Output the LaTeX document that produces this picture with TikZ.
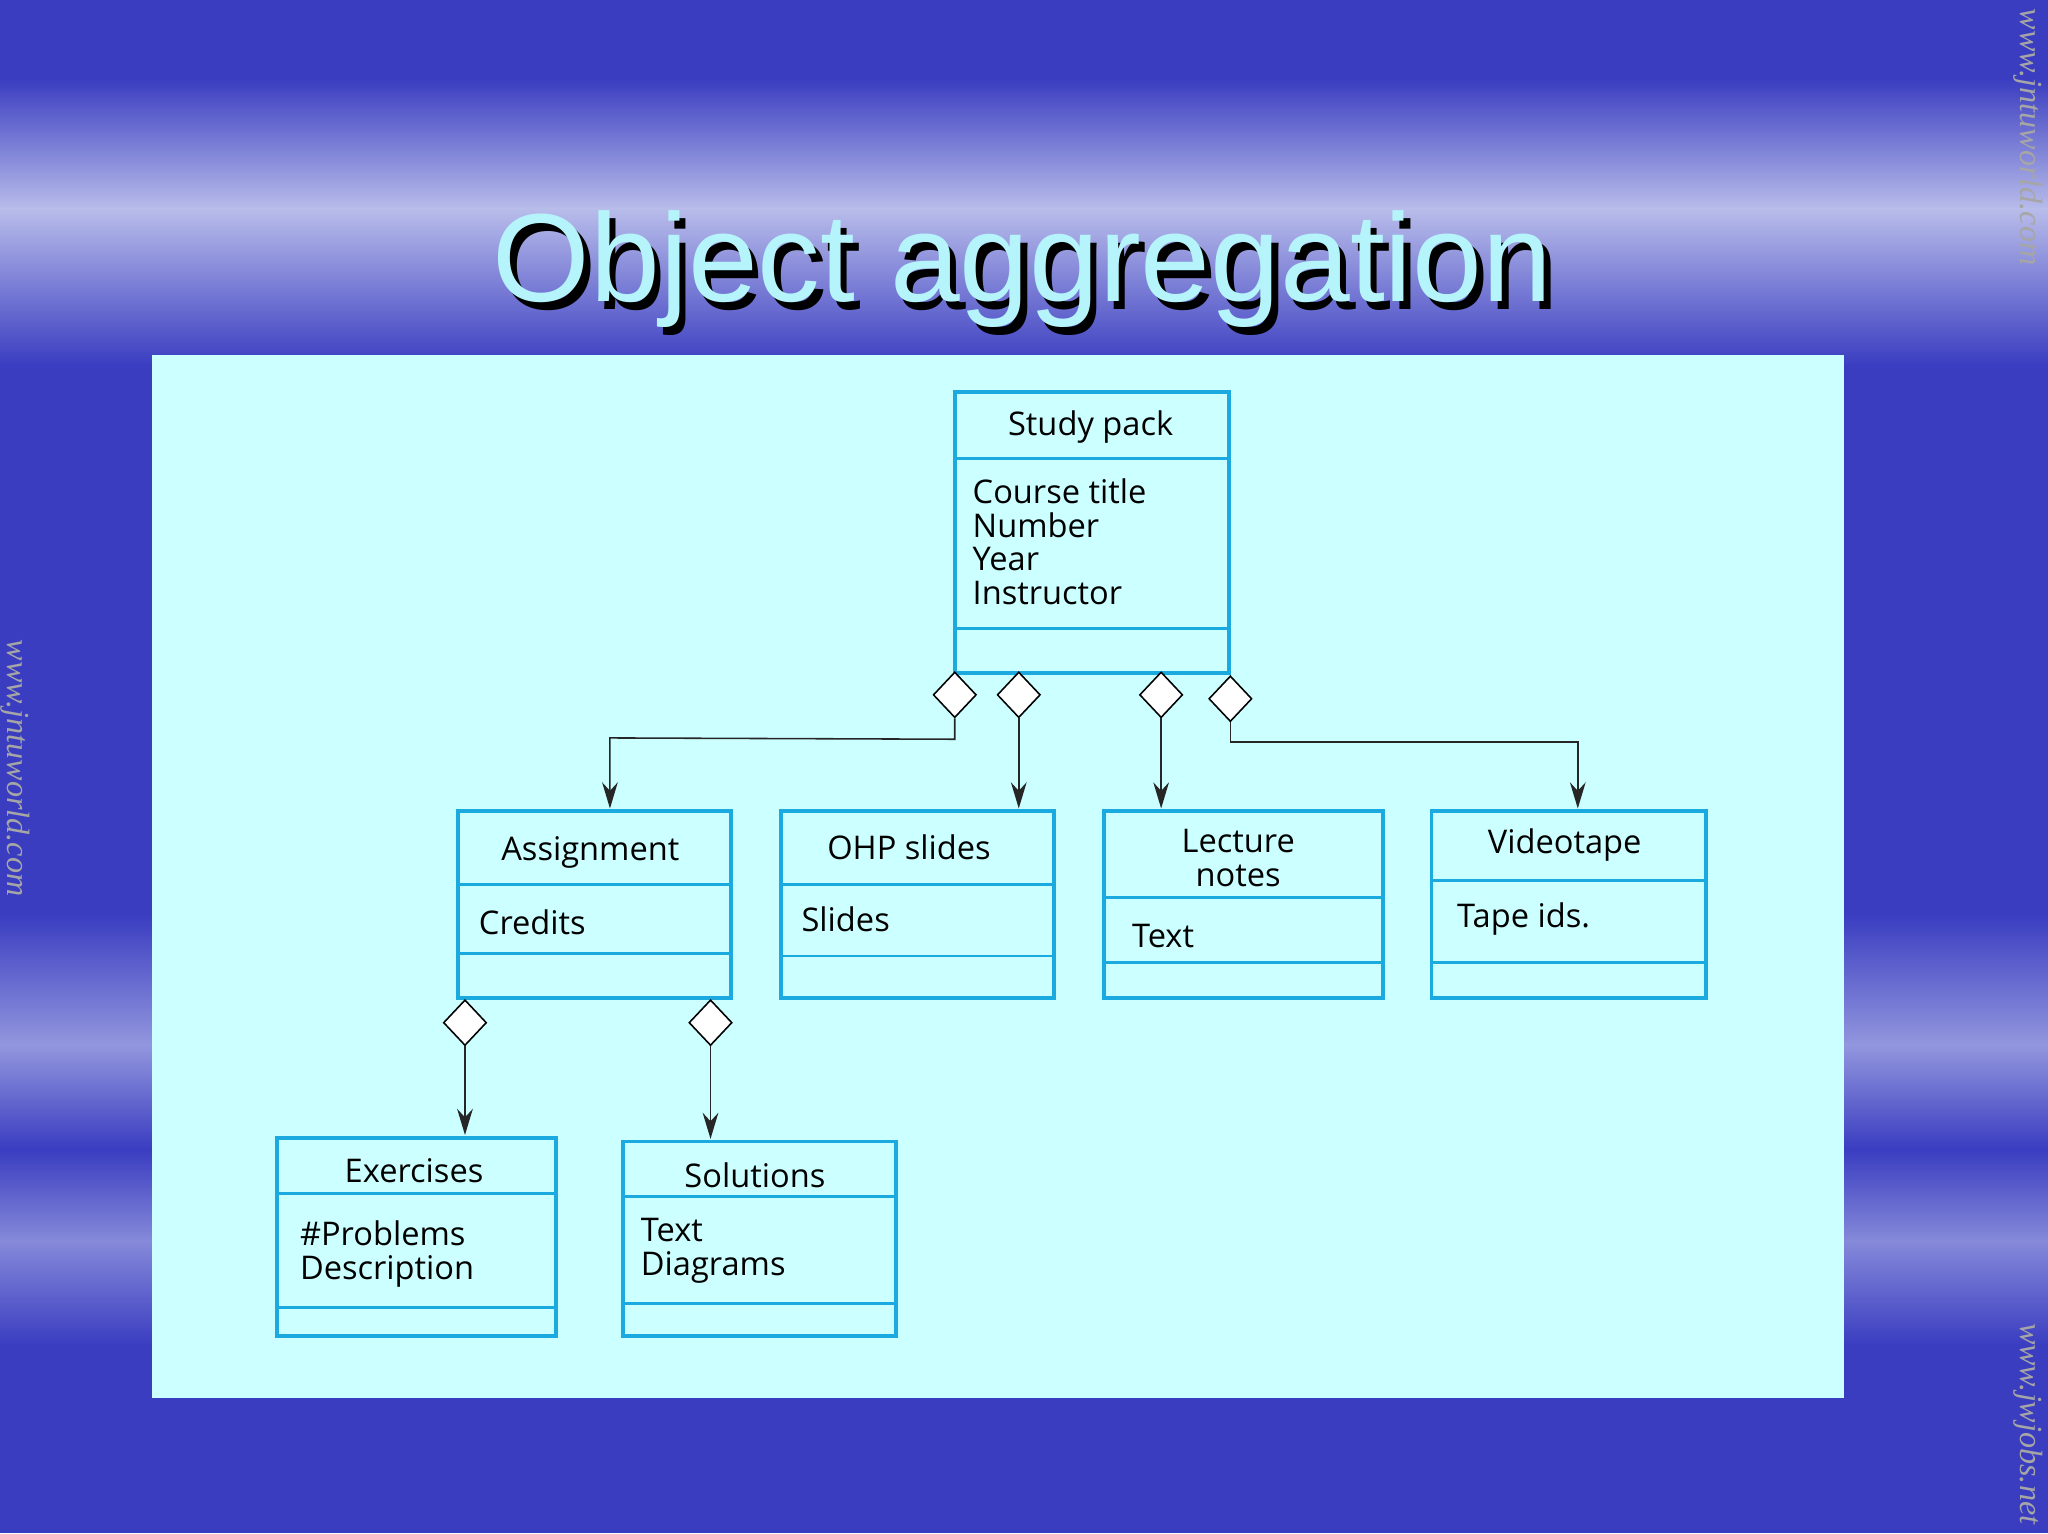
\documentclass[tikz,border=0pt]{standalone}
\usepackage{fontspec}
\setmainfont{Open Sans}
\newfontfamily\wmfont{Liberation Serif}
\newfontfamily\ttlfont{Liberation Sans}
\usetikzlibrary{arrows.meta,shapes.geometric}
\definecolor{bgblue}{HTML}{3A3DC0}
\definecolor{bglight}{HTML}{B8BCEA}
\definecolor{panel}{HTML}{CCFFFF}
\definecolor{boxline}{HTML}{1AAAE0}
\definecolor{ttl}{HTML}{B4F4FA}
\tikzset{
  box/.style={draw=boxline,line width=0.03cm,fill=panel},
  sep/.style={draw=boxline,line width=0.02cm},
  lbl/.style={font=\fontsize{7.1}{7.3}\selectfont,inner sep=0pt,align=left},
  dia/.style={diamond,draw=black,fill=white,line width=0.012cm,minimum width=0.33cm,minimum height=0.35cm,inner sep=0pt,aspect=1},
  conn/.style={draw=black!85,line width=0.012cm,-{Stealth[length=0.2cm,width=0.12cm]}},
  wm/.style={font=\wmfont\itshape\fontsize{7}{7}\selectfont,text=gray!70,inner sep=0pt}
}
\begin{document}
\begin{tikzpicture}[x=0.01cm,y=-0.01cm]
\useasboundingbox (0,0) rectangle (1568,1174);
% background
\fill[bgblue] (0,0) rectangle (1568,1174);
\shade[top color=bgblue,bottom color=bglight] (0,60) rectangle (1568,160);
\shade[top color=bglight,bottom color=bgblue] (0,160) rectangle (1568,280);
\shade[top color=bgblue,bottom color=bglight!70!bgblue] (0,700) rectangle (1568,800);
\shade[top color=bglight!70!bgblue,bottom color=bgblue] (0,800) rectangle (1568,880);
\shade[top color=bgblue,bottom color=bglight!60!bgblue] (0,880) rectangle (1568,950);
\shade[top color=bglight!60!bgblue,bottom color=bgblue] (0,950) rectangle (1568,1030);
% title
\node[font=\ttlfont\fontsize{27.3}{27.3}\selectfont,text=black] at (788,212) {Object aggregation};
\node[font=\ttlfont\fontsize{27.3}{27.3}\selectfont,text=ttl] (title) at (783,206) {Object aggregation};
% watermarks
\node[wm,rotate=-90] (w1) at (12,588) {www.jntuworld.com};
\node[wm,rotate=-90] (w2) at (1553,105) {www.jntuworld.com};
\node[wm,rotate=-90] (w3) at (1553,1090) {www.jwjobs.net};
% panel
\fill[panel] (116,272) rectangle (1412,1070);
% Study pack
\draw[box] (731,300) rectangle (941,515);
\draw[sep] (731,351) -- (941,351); \draw[sep] (731,481) -- (941,481);
\node[lbl] (sp) at (835,327) {Study pack};
\node[lbl,anchor=north west] (spa) at (744,366) {Course title\\Number\\Year\\Instructor};
% Assignment
\draw[box] (351,621) rectangle (560,764);
\draw[sep] (351,677) -- (560,677); \draw[sep] (351,730) -- (560,730);
\node[lbl] (as) at (452,653) {Assignment};
\node[lbl,anchor=west] (asa) at (366,706) {Credits};
% OHP
\draw[box] (598,621) rectangle (807,764);
\draw[sep] (598,677) -- (807,677); \draw[sep] (598,732) -- (807,732);
\node[lbl] (ohp) at (696,649) {OHP slides};
\node[lbl,anchor=west] (ohpa) at (613,704) {Slides};
% Lecture
\draw[box] (845,621) rectangle (1059,764);
\draw[sep] (845,687) -- (1059,687); \draw[sep] (845,737) -- (1059,737);
\node[lbl,align=center] (ln) at (948,657) {Lecture\\notes};
\node[lbl,anchor=west] (lna) at (866,717) {Text};
% Videotape
\draw[box] (1096,621) rectangle (1306,764);
\draw[sep] (1096,674) -- (1306,674); \draw[sep] (1096,737) -- (1306,737);
\node[lbl] (vt) at (1198,647) {Videotape};
\node[lbl,anchor=west] (vta) at (1115,704) {Tape ids.};
% Exercises
\draw[box] (212,871) rectangle (426,1023);
\draw[sep] (212,914) -- (426,914); \draw[sep] (212,1001) -- (426,1001);
\node[lbl] (ex) at (317,896) {Exercises};
\node[lbl,anchor=north west] (exa) at (229,934) {\#Problems\\Description};
% Solutions
\draw[box] (477,874) rectangle (686,1023);
\draw[sep] (477,916) -- (686,916); \draw[sep] (477,998) -- (686,998);
\node[lbl] (so) at (578,900) {Solutions};
\node[lbl,anchor=north west] (soa) at (490,932) {Text\\Diagrams};
% anchors for arrow ends
\coordinate (asT) at (467,619);
\coordinate (ohT) at (780,619);
\coordinate (lnT) at (889,619);
\coordinate (vtT) at (1208,619);
\coordinate (exT) at (356,869);
\coordinate (soT) at (544,872);
% diamonds
\node[dia] (d1) at (731,532) {};
\node[dia] (d2) at (780,532) {};
\node[dia] (d3) at (889,532) {};
\node[dia] (d4) at (942,535) {};
\node[dia] (d5) at (356,783) {};
\node[dia] (d6) at (544,783) {};
% connectors
\draw[conn] (d1.south) -- (731,566) -- (467,565) -- (asT);
\draw[conn] (d2.south) -- (ohT);
\draw[conn] (d3.south) -- (lnT);
\draw[conn] (d4.south) -- (942,568) -- (1208,568) -- (vtT);
\draw[conn] (d5.south) -- (exT);
\draw[conn] (d6.south) -- (soT);
\end{tikzpicture}
\end{document}
